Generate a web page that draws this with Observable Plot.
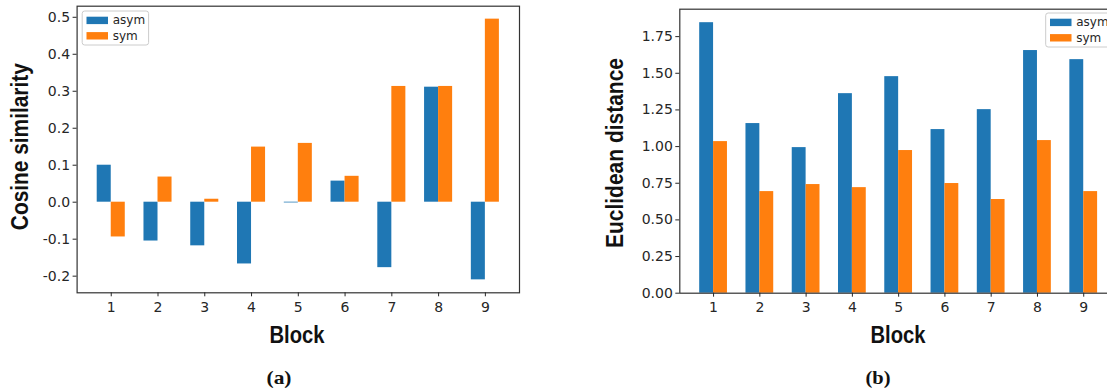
<!DOCTYPE html>
<html>
<head>
<meta charset="utf-8">
<script src="https://cdn.jsdelivr.net/npm/d3@7"></script>
<script src="https://cdn.jsdelivr.net/npm/@observablehq/plot@0.6"></script>
<style>
  html, body { margin: 0; padding: 0; background: #fff; }
  #wrap { position: relative; width: 1107px; height: 389px; overflow: hidden; background: #fff; }
  #wrap > svg { position: absolute; top: 0; }
  svg.panel text, svg.panel g text {
    font-size: 14px !important; font-family: 'DejaVu Sans', sans-serif !important; fill: #262626;
  }
</style>
</head>
<body>
<div id="wrap"></div>
<script>
// ---- data ----
const blocks = [1, 2, 3, 4, 5, 6, 7, 8, 9];
const seriesNames = ["asym", "sym"];
const seriesColors = ["#1f77b4", "#ff7f0e"];
const cosAsym = [0.100, -0.105, -0.118, -0.167, -0.002, 0.057, -0.177, 0.311, -0.210];
const cosSym  = [-0.094, 0.068, 0.008, 0.149, 0.159, 0.070, 0.313, 0.313, 0.495];
const eucAsym = [1.845, 1.157, 0.993, 1.361, 1.477, 1.116, 1.252, 1.655, 1.593];
const eucSym  = [1.034, 0.693, 0.741, 0.720, 0.973, 0.748, 0.639, 1.041, 0.693];
const cosTicks = [-0.2, -0.1, 0.0, 0.1, 0.2, 0.3, 0.4, 0.5];
const eucTicks = [0, 0.25, 0.5, 0.75, 1.0, 1.25, 1.5, 1.75];
const xLabel = "Block";
const yLabelA = "Cosine similarity";
const yLabelB = "Euclidean distance";
const captionA = "(a)";
const captionB = "(b)";

const BW = 0.3; // bar width in block units

function panel({asym, sym, yDomain, yTicks, fmt, ml, mr, mt, mb}) {
  const rows = blocks.flatMap((b, i) => [
    {block: b, series: seriesNames[0], value: asym[i]},
    {block: b, series: seriesNames[1], value: sym[i]}
  ]);
  const svg = Plot.plot({
    width: 540, height: 350,
    marginLeft: ml, marginRight: mr, marginTop: mt, marginBottom: mb,
    x: {domain: [0.27, 9.73]},
    y: {domain: yDomain},
    color: {domain: seriesNames, range: seriesColors},
    style: {fontFamily: "DejaVu Sans", fontSize: "14px", color: "#262626", background: "transparent", overflow: "visible"},
    marks: [
      Plot.rectY(rows, {
        x1: d => d.series === seriesNames[0] ? d.block - BW : d.block,
        x2: d => d.series === seriesNames[0] ? d.block : d.block + BW,
        y1: 0, y2: "value", fill: "series"
      }),
      Plot.frame({stroke: "#333", strokeWidth: 1.2}),
      Plot.axisX({ticks: blocks, tickFormat: d => String(d), tickSize: 4, tickPadding: 5, label: null, fontSize: 14}),
      Plot.axisY({ticks: yTicks, tickFormat: fmt, tickSize: 4, tickPadding: 3, label: null, fontSize: 14})
    ]
  });
  svg.classList.add("panel");
  svg.querySelectorAll("text").forEach(t => t.setAttribute("font-size", "14"));
  return svg;
}

const wrap = document.getElementById("wrap");
const a = panel({asym: cosAsym, sym: cosSym, yDomain: [-0.245, 0.53], yTicks: cosTicks,
  fmt: d => d.toFixed(1), ml: 76.6, mr: 21, mt: 5.7, mb: 57.7});
a.style.left = "0px";
wrap.appendChild(a);
const b = panel({asym: eucAsym, sym: eucSym, yDomain: [0, 1.937], yTicks: eucTicks,
  fmt: d => d.toFixed(2), ml: 79.3, mr: 23, mt: 8.7, mb: 57.3});
b.style.left = "600px";
wrap.appendChild(b);

// ---- overlay: axis titles, captions, legends ----
const ov = d3.create("svg").attr("width", 1107).attr("height", 389).style("left", "0px").style("pointer-events", "none");
const titleFont = "'Liberation Sans Narrow', 'Liberation Sans', Arial, sans-serif";
function title(txt, x, y, len, rot) {
  const t = ov.append("text").attr("x", x).attr("y", y).attr("text-anchor", "middle")
    .attr("font-family", titleFont).attr("font-weight", "bold").attr("font-size", 24)
    .attr("fill", "#111").attr("textLength", len).attr("lengthAdjust", "spacingAndGlyphs").text(txt);
  if (rot) t.attr("transform", `rotate(-90 ${x} ${y})`);
}
title(xLabel, 297, 343.3, 55, false);
title(xLabel, 898, 343.3, 55, false);
title(yLabelA, 28.3, 146.7, 167, true);
title(yLabelB, 622.7, 153, 190, true);
function caption(txt, x) {
  ov.append("text").attr("x", x).attr("y", 383.5).attr("text-anchor", "middle")
    .attr("font-family", "'Liberation Serif', 'Times New Roman', serif").attr("font-weight", "bold")
    .attr("font-size", 19).attr("fill", "#111").attr("textLength", 25).attr("lengthAdjust", "spacingAndGlyphs").text(txt);
}
caption(captionA, 279);
caption(captionB, 878);

function legend(x0, y0, w) {
  ov.append("rect").attr("x", x0).attr("y", y0).attr("width", w).attr("height", 34)
    .attr("rx", 2.5).attr("fill", "rgba(255,255,255,0.8)").attr("stroke", "#cccccc").attr("stroke-width", 1);
  seriesNames.forEach((s, i) => {
    const yy = y0 + 5.7 + i * 15.4;
    ov.append("rect").attr("x", x0 + 4.3).attr("y", yy).attr("width", 21.5).attr("height", 7.4).attr("fill", seriesColors[i]);
    ov.append("text").attr("x", x0 + 30.5).attr("y", yy + 7.6).attr("font-family", "DejaVu Sans")
      .attr("font-size", 12).attr("fill", "#262626").text(s);
  });
}
legend(82.2, 11, 66.4);
legend(1045.7, 13, 66);

wrap.appendChild(ov.node());
</script>
</body>
</html>
